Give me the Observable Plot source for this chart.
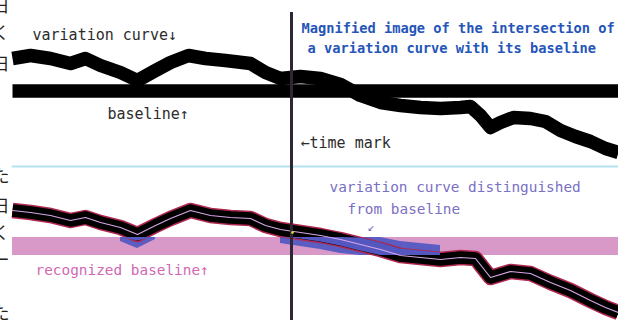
<!DOCTYPE html>
<html>
<head>
<meta charset="utf-8">
<script src="https://cdn.jsdelivr.net/npm/d3@7"></script>
<script src="https://cdn.jsdelivr.net/npm/@observablehq/plot@0.6"></script>
<style>
  html, body { margin: 0; padding: 0; background: #fff; }
  #chart svg { display: block; }
</style>
</head>
<body>
<div id="chart"></div>
<script>
// ---- data (picture coordinates: x from left, y from top) ----
const xExtent = [12, 618];
const topBaselineY = 90.5;
const timeMarkX = 291;
const timeMarkTop = 12;
const dividerY = 166;
const bandTop = 237;
const bandBottom = 255;

const topCurveX = [12, 30, 50, 70, 85, 100, 120, 137, 155, 170, 188, 205, 225, 250, 265, 280, 300, 320, 340, 360, 380, 400, 420, 440, 460, 470, 480, 490, 500, 513, 530, 545, 560, 575, 590, 605, 618];
const topCurveY = [58, 55, 58, 63, 58, 65, 72, 80, 70, 62, 55, 58, 60, 63, 72, 78, 76, 78, 84, 95, 102, 105, 107, 108, 107, 106, 115, 127, 122, 117, 118, 121, 130, 136, 141, 148, 152];

const botCurveX = [12, 30, 50, 70, 85, 100, 120, 137, 155, 170, 190, 210, 230, 250, 265, 280, 300, 320, 340, 360, 380, 400, 420, 440, 460, 475, 490, 510, 530, 550, 570, 590, 605, 618];
const botCurveY = [210, 212, 215, 220, 217, 222, 227, 234, 225, 218, 210, 215, 217, 218, 225, 229, 232, 235, 239, 244, 249, 255, 257, 259, 257, 258, 277, 271, 273, 282, 290, 300, 307, 312];

// x ranges where the variation curve is distinguished from the baseline
const distinguishedRanges = [[115, 160], [266, 445]];
// half-widths of the highlighted zone and of the highlighted curve body
const zoneHalf = 14;
const coreHalf = 6.5;

const labels = [
  {text: "variation curve↓", x: 32, y: 35, color: "#2c2c2c", size: 15, weight: "normal"},
  {text: "baseline↑", x: 107, y: 114, color: "#2c2c2c", size: 15, weight: "normal"},
  {text: "←time mark", x: 300, y: 143, color: "#2c2c2c", size: 15, weight: "normal"},
  {text: "Magnified image of the intersection of", x: 301, y: 28, color: "#2555b8", size: 13.7, weight: "bold"},
  {text: "a variation curve with its baseline", x: 307, y: 48, color: "#2555b8", size: 13.7, weight: "bold"},
  {text: "variation curve distinguished", x: 329, y: 187, color: "#7a70c4", size: 14.4, weight: "normal"},
  {text: "from baseline", x: 347, y: 209, color: "#7a70c4", size: 14.4, weight: "normal"},
  {text: "↙", x: 367, y: 227, color: "#7a70c4", size: 12, weight: "normal"},
  {text: "recognized baseline↑", x: 35, y: 270, color: "#d068b4", size: 14.4, weight: "normal"}
];

// cropped characters of the surrounding page text at the left edge
const edgeChars = ["日", "く", "日", "た", "日", "く", "ー", "、", "た"];
const edgeCharY = [6, 33, 64, 176, 206, 233, 260, 284, 313];

// ---- tables built from the arrays ----
const topCurve = topCurveX.map((x, i) => ({x, y: topCurveY[i]}));
const botCurve = botCurveX.map((x, i) => ({x, y: botCurveY[i]}));
const distinguished = distinguishedRanges.map(([a, b], k) =>
  botCurve.filter(d => d.x >= a && d.x <= b).map(d => ({...d, seg: k}))).flat();
const clampBand = (lo, hi) => {
  const a = Math.max(bandTop, lo), b = Math.min(bandBottom, hi);
  return b > a ? [a, b] : [a, a];
};
const zone = distinguished.map(d => {
  const [y1, y2] = clampBand(d.y - zoneHalf, d.y + zoneHalf);
  return {x: d.x, y1, y2, seg: d.seg};
});
const core = distinguished.map(d => {
  const [y1, y2] = clampBand(d.y - coreHalf, d.y + coreHalf);
  return {x: d.x, y1, y2, seg: d.seg};
});
const baselineTop = xExtent.map(x => ({x, y: topBaselineY}));
const divider = xExtent.map(x => ({x, y: dividerY}));
const band = [{x1: xExtent[0], x2: xExtent[1], y1: bandTop, y2: bandBottom}];
const timeMark = [{x: timeMarkX, y1: timeMarkTop, y2: 320}];
const edge = edgeChars.map((t, i) => ({t, y: edgeCharY[i]}));
const yellowDot = [{x: timeMarkX + 1, y: 232}];

const mono = "'DejaVu Sans Mono', 'Liberation Mono', monospace";

const textMarks = labels.map(l => Plot.text([l], {
  x: "x", y: "y", text: "text", textAnchor: "start", lineAnchor: "middle",
  fill: l.color, fontSize: l.size, fontWeight: l.weight, fontFamily: mono
}));

const plot = Plot.plot({
  width: 618,
  height: 320,
  margin: 0,
  x: {domain: [0, 618], range: [0, 618], axis: null},
  y: {domain: [0, 320], range: [0, 320], axis: null},
  style: {background: "#fff", overflow: "hidden"},
  marks: [
    // top panel
    Plot.line(baselineTop, {x: "x", y: "y", stroke: "#000", strokeWidth: 13.5, strokeLinecap: "butt"}),
    Plot.line(topCurve, {x: "x", y: "y", stroke: "#000", strokeWidth: 13.5, strokeLinejoin: "round", strokeLinecap: "butt", curve: "linear"}),
    // divider
    Plot.line(divider, {x: "x", y: "y", stroke: "#b4e2f0", strokeWidth: 2}),
    // bottom panel: recognized baseline band
    Plot.rect(band, {x1: "x1", x2: "x2", y1: "y1", y2: "y2", fill: "#d899c9"}),
    // zone where the curve is distinguished from the baseline
    Plot.areaY(zone, {x: "x", y1: "y1", y2: "y2", z: "seg", fill: "#5b5dc2"}),
    // variation curve with red halo
    Plot.line(botCurve, {x: "x", y: "y", stroke: "#b02850", strokeWidth: 15.5, strokeLinejoin: "round", strokeLinecap: "butt"}),
    Plot.line(botCurve, {x: "x", y: "y", stroke: "#000", strokeWidth: 12.5, strokeLinejoin: "round", strokeLinecap: "butt"}),
    Plot.areaY(core, {x: "x", y1: "y1", y2: "y2", z: "seg", fill: "#5457c0"}),
    Plot.line(botCurve, {x: "x", y: "y", stroke: "#d6a6e6", strokeWidth: 1.2, strokeLinejoin: "round"}),
    // time mark
    Plot.ruleX(timeMark, {x: "x", y1: "y1", y2: "y2", stroke: "#2e2634", strokeWidth: 3}),
    Plot.dot(yellowDot, {x: "x", y: "y", r: 1.4, fill: "#d8d030", stroke: null}),
    // texts
    ...textMarks,
    Plot.text(edge, {x: () => 9, y: "y", text: "t", textAnchor: "end", lineAnchor: "middle",
      fill: "#222", fontSize: 17, fontFamily: "'Noto Sans CJK JP', sans-serif"})
  ]
});

document.getElementById("chart").appendChild(plot);
</script>
</body>
</html>
